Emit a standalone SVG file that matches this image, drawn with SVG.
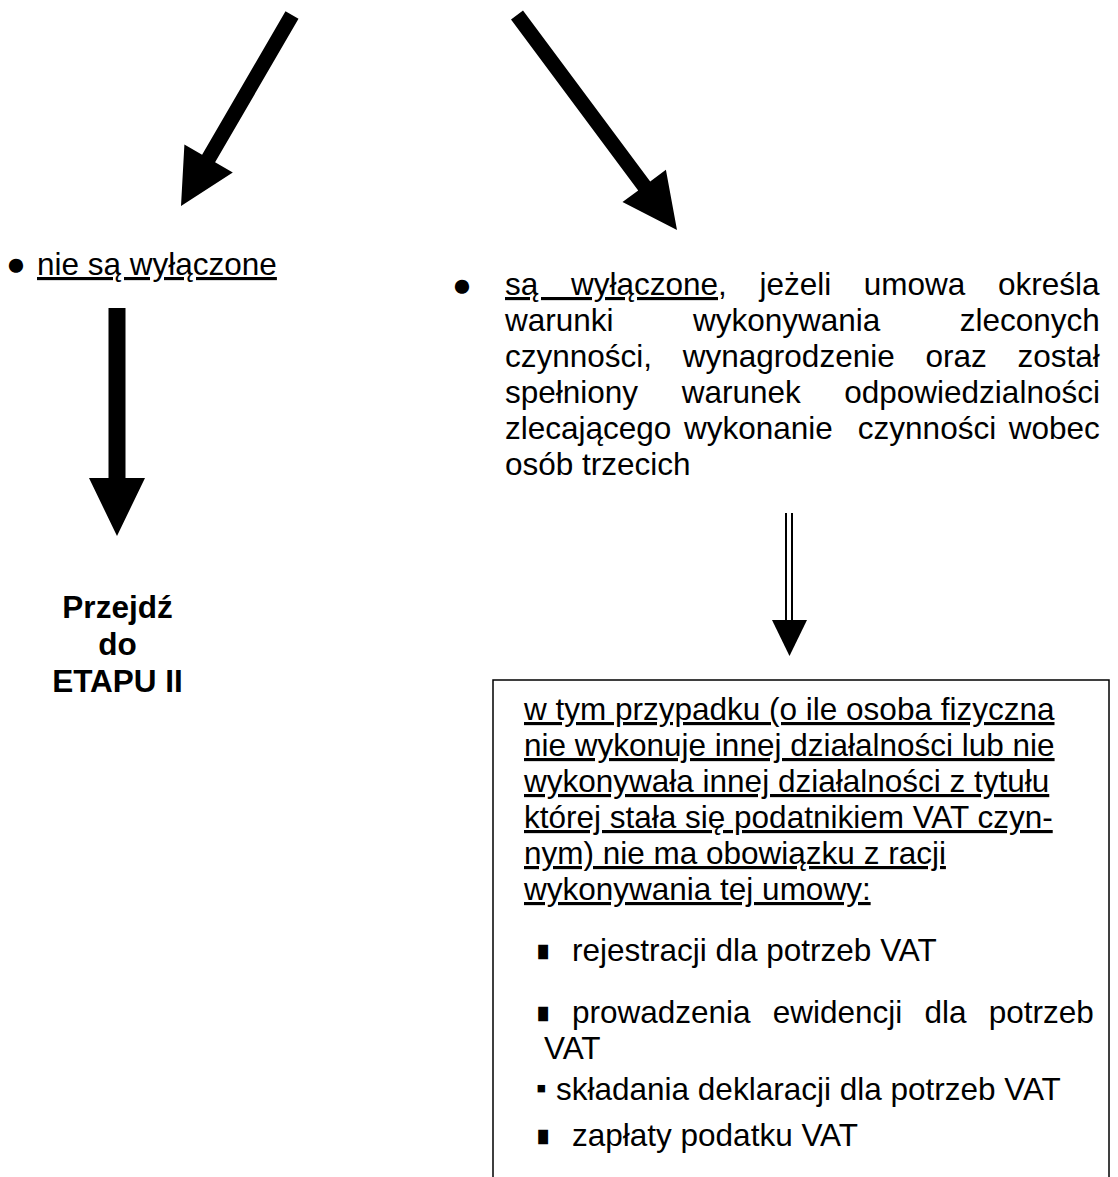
<svg xmlns="http://www.w3.org/2000/svg" width="1118" height="1177" viewBox="0 0 1118 1177">
<style>
  text { font-family: "Liberation Sans", Arial, sans-serif; font-size: 31.5px; fill: #000; }
  .b { font-weight: bold; }
  .u { text-decoration: underline; }
  .pre { white-space: pre; }
  .arrow { fill: #000; stroke: none; }
  .dbl { stroke: #000; stroke-width: 2; fill: none; }
  .box { fill: #fff; stroke: #000; stroke-width: 1.5; }
  .dot { font-size: 33px; }
  .sq { font-size: 26px; }
  .sqs { font-size: 30px; }
</style>
<rect width="1118" height="1177" fill="#fff"/>

<g id="connectors">
  <polygon class="arrow" points="285.5,11.2 298.5,18.8 215.1,162.3 232.8,172.6 181,206 184.4,144.4 202.1,154.7"/>
  <polygon class="arrow" points="511,19.5 523,10.5 650.2,181.4 665.9,169.8 677,230 622.5,202 638.2,190.4"/>
  <polygon class="arrow" points="108.5,308 125.5,308 125.5,478 145,478 117,536 89,478 108.5,478"/>
  <line class="dbl" x1="786" y1="513" x2="786" y2="622"/>
  <line class="dbl" x1="792" y1="513" x2="792" y2="622"/>
  <polygon class="arrow" points="772,620 807,620 789.5,656"/>
</g>

<g id="node-not-excluded">
  <text x="6" y="275" class="dot">●</text>
  <text x="37" y="275" class="u">nie są wyłączone</text>
</g>

<g id="node-go-to-stage2">
  <text x="117.5" y="618" class="b" text-anchor="middle">Przejdź</text>
  <text x="117.5" y="655" class="b" text-anchor="middle">do</text>
  <text x="117.5" y="692" class="b" text-anchor="middle">ETAPU II</text>
</g>

<g id="node-excluded">
  <text x="452" y="296" class="dot">●</text>
  <text x="505" y="295" word-spacing="23.9"><tspan class="u">są wyłączone</tspan>, jeżeli umowa określa</text>
  <text x="505" y="331" word-spacing="70.7">warunki wykonywania zleconych</text>
  <text x="505" y="367" word-spacing="22">czynności, wynagrodzenie oraz został</text>
  <text x="505" y="403" word-spacing="34.8">spełniony warunek odpowiedzialności</text>
  <text x="505" y="439" word-spacing="3.8" class="pre">zlecającego wykonanie  czynności wobec</text>
  <text x="505" y="475">osób trzecich</text>
</g>

<g id="node-box">
  <rect class="box" x="493" y="680" width="616" height="530"/>
  <text x="524" y="720" class="u">w tym przypadku (o ile osoba fizyczna</text>
  <text x="524" y="756" class="u">nie wykonuje innej działalności lub nie</text>
  <text x="524" y="792" class="u">wykonywała innej działalności z tytułu</text>
  <text x="524" y="828" class="u">której stała się podatnikiem VAT czyn-</text>
  <text x="524" y="864" class="u">nym) nie ma obowiązku z racji</text>
  <text x="524" y="900" class="u">wykonywania tej umowy:</text>
  <text class="sq" transform="translate(537,961) scale(0.78,1.15)">■</text>
  <text x="572" y="961">rejestracji dla potrzeb VAT</text>
  <text class="sq" transform="translate(537,1023) scale(0.78,1.15)">■</text>
  <text x="572" y="1023" word-spacing="13.4">prowadzenia ewidencji dla potrzeb</text>
  <text x="544" y="1059">VAT</text>
  <text x="536" y="1098" class="sqs">▪</text>
  <text x="556" y="1100">składania deklaracji dla potrzeb VAT</text>
  <text class="sq" transform="translate(537,1146) scale(0.78,1.15)">■</text>
  <text x="572" y="1146">zapłaty podatku VAT</text>
</g>
</svg>
